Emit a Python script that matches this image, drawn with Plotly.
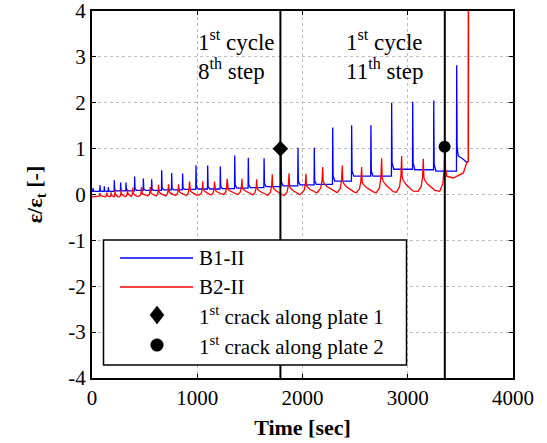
import plotly.graph_objects as go

# ---------------- data ----------------
blue_spike_time = [10, 76, 117, 155, 212, 272, 323, 405, 488, 567, 662, 757, 861,
                   988, 1099, 1219, 1356, 1485, 1635, 1796, 1957, 2112, 2287, 2467,
                   2650, 2847, 3047, 3247, 3465]
blue_spike_peak = [0.14, 0.20, 0.18, 0.16, 0.31, 0.26, 0.26, 0.39, 0.35, 0.33, 0.53,
                   0.47, 0.46, 0.64, 0.63, 0.61, 0.85, 0.80, 0.79, 1.00, 1.02, 1.02,
                   1.46, 1.51, 1.51, 2.00, 2.02, 2.05, 2.82]
blue_base = [0.07, 0.07, 0.07, 0.07, 0.07, 0.08, 0.08, 0.08, 0.09, 0.09, 0.09, 0.10,
             0.10, 0.11, 0.12, 0.12, 0.13, 0.14, 0.15, 0.17, 0.19, 0.21, 0.22, 0.29,
             0.40, 0.40, 0.55, 0.54, 0.51]
blue_tail_time = [3480, 3528, 3560, 3576, 3577]
blue_tail_value = [0.84, 0.77, 0.70, 0.72, 4.5]

red_spike_time = [75, 141, 182, 220, 277, 337, 388, 470, 553, 632, 727, 822, 926,
                  1053, 1164, 1284, 1425, 1565, 1713, 1872, 2033, 2192, 2378, 2562,
                  2752, 2942, 3148, 3354]
red_spike_peak = [0.03, 0.04, 0.05, 0.11, 0.12, 0.12, 0.15, 0.16, 0.16, 0.21, 0.22,
                  0.22, 0.28, 0.29, 0.28, 0.34, 0.34, 0.33, 0.44, 0.46, 0.45, 0.60,
                  0.63, 0.60, 0.79, 0.84, 0.78, 1.22]
red_base = [-0.05, -0.05, -0.05, -0.05, -0.05, -0.04, -0.04, -0.04, -0.03, -0.03,
            -0.03, -0.02, -0.02, -0.01, -0.01, 0.00, 0.00, -0.01, -0.02, -0.02, 0.02,
            0.06, 0.04, 0.04, 0.04, 0.05, 0.07, 0.07]
red_tail_time = [3370, 3433, 3480, 3528, 3560, 3576, 3577]
red_tail_value = [0.40, 0.36, 0.41, 0.47, 0.69, 0.72, 4.5]

crack_time = [1790, 3350]
crack_value = [1.00, 1.04]
cycle_line_time = [1790, 3352]

x_ticks = [0, 1000, 2000, 3000, 4000]
y_ticks = [-4, -3, -2, -1, 0, 1, 2, 3, 4]
x_tick_labels = ["0", "1000", "2000", "3000", "4000"]
y_tick_labels = ["-4", "-3", "-2", "-1", "0", "1", "2", "3", "4"]

# ---------------- build polylines from the spike lists ----------------
def build_blue():
    xs, ys = [0], [blue_base[0]]
    n = len(blue_spike_time)
    for i in range(n):
        t, p, b = blue_spike_time[i], blue_spike_peak[i], blue_base[i]
        nb = blue_base[i + 1] if i + 1 < n else blue_tail_value[0]
        limit = blue_spike_time[i + 1] - 2 if i + 1 < n else blue_tail_time[0]
        pts = [(t - 2, b), (t, p), (t + 4, nb + 0.1 * (p - nb)), (t + 20, nb)]
        for px_, py_ in pts:
            if px_ < limit:
                xs.append(px_); ys.append(py_)
    xs += blue_tail_time
    ys += blue_tail_value
    return xs, ys


def build_red():
    xs, ys = [0], [red_base[0]]
    n = len(red_spike_time)
    offs = [-50, -20, -7, 0, 5, 15, 40, 110]
    fr = [0.0, 0.15, 0.45, 1.0, 0.42, 0.33, 0.22, 0.03]
    for i in range(n):
        t, p, b = red_spike_time[i], red_spike_peak[i], red_base[i]
        a = p - b
        gp = t - red_spike_time[i - 1] if i > 0 else 200
        gn = red_spike_time[i + 1] - t if i + 1 < n else 200
        s = min(1.0, min(gp, gn) / 170.0)
        limit = red_spike_time[i + 1] if i + 1 < n else red_tail_time[0]
        for o, f in zip(offs, fr):
            xx = t + o * s
            if xx < limit and xx > xs[-1]:
                xs.append(xx); ys.append(b + f * a)
    xs += red_tail_time
    ys += red_tail_value
    return xs, ys


bx, by = build_blue()
rx, ry = build_red()

SERIF = "Liberation Serif"

fig = go.Figure()
fig.add_trace(go.Scatter(x=bx, y=by, mode="lines", name="B1-II",
                         line=dict(color="#0000ff", width=1.3)))
fig.add_trace(go.Scatter(x=rx, y=ry, mode="lines", name="B2-II",
                         line=dict(color="#ff0000", width=1.3)))
for t in cycle_line_time:
    fig.add_trace(go.Scatter(x=[t, t], y=[y_ticks[0], y_ticks[-1]], mode="lines",
                             line=dict(color="black", width=2), hoverinfo="skip"))
fig.add_trace(go.Scatter(x=crack_time[:1], y=crack_value[:1], mode="markers",
                         name="1st crack along plate 1",
                         marker=dict(symbol="diamond", size=12, color="black")))
fig.add_trace(go.Scatter(x=crack_time[1:], y=crack_value[1:], mode="markers",
                         name="1st crack along plate 2",
                         marker=dict(symbol="circle", size=12, color="black")))

axis_common = dict(showline=True, linecolor="black", linewidth=2, mirror="ticks",
                   ticks="inside", ticklen=4, tickwidth=1, tickcolor="black",
                   showgrid=True, gridcolor="#bdbdbd", gridwidth=1,
                   griddash="3px,3px", zeroline=False, automargin=False,
                   ticklabeloverflow="allow",
                   tickfont=dict(family=SERIF, size=21, color="black"))

fig.update_xaxes(range=[0, 4000], tickvals=x_ticks, ticktext=x_tick_labels,
                 **axis_common,
                 title=dict(text="<b>Time [sec]</b>", standoff=10,
                            font=dict(family=SERIF, size=22, color="black")))
fig.update_yaxes(range=[-4, 4], tickvals=y_ticks, ticktext=y_tick_labels,
                 **axis_common,
                 title=dict(text="<b>ε/ε<sub>t</sub> [-]</b>", standoff=20,
                            font=dict(family=SERIF, size=22, color="black")))

# ---------------- custom legend (paper coordinates) ----------------
L, R, T, B = 92, 513, 11, 378
W, H = R - L, B - T
def px(x):
    return (x - L) / W
def py(y):
    return (B - y) / H

shapes = []
shapes.append(dict(type="rect", xref="paper", yref="paper", layer="above",
                   x0=px(103.5), x1=px(406.5), y0=py(365), y1=py(240),
                   line=dict(color="black", width=1.5), fillcolor="white"))
for yy, col in [(258, "#0000ff"), (287, "#ff0000")]:
    shapes.append(dict(type="line", xref="paper", yref="paper", layer="above",
                       x0=px(120), x1=px(193), y0=py(yy), y1=py(yy),
                       line=dict(color=col, width=1.3)))
shapes.append(dict(type="path", xref="paper", yref="paper", layer="above",
                   xsizemode="pixel", ysizemode="pixel",
                   xanchor=px(157), yanchor=py(315),
                   path="M0,9 L7,0 L0,-9 L-7,0 Z",
                   fillcolor="black", line=dict(color="black", width=0.5)))
shapes.append(dict(type="circle", xref="paper", yref="paper", layer="above",
                   xsizemode="pixel", ysizemode="pixel",
                   xanchor=px(157), yanchor=py(345),
                   x0=-6.3, x1=6.3, y0=-6.3, y1=6.3,
                   fillcolor="black", line=dict(color="black", width=0.5)))
fig.update_layout(shapes=shapes)

legend_texts = [("B1-II", 258), ("B2-II", 287),
                ("1<sup>st</sup> crack along plate 1", 315),
                ("1<sup>st</sup> crack along plate 2", 345)]
annotations = []
for txt, yy in legend_texts:
    annotations.append(dict(xref="paper", yref="paper", x=px(197), y=py(yy),
                            xanchor="left", yanchor="middle", text=txt,
                            showarrow=False,
                            font=dict(family=SERIF, size=21, color="black")))

label_texts = [("1<sup>st</sup> cycle", 990, 3.36), ("8<sup>th</sup> step", 990, 2.72),
               ("1<sup>st</sup> cycle", 2396, 3.36), ("11<sup>th</sup> step", 2396, 2.72)]
for txt, xx, yy in label_texts:
    annotations.append(dict(xref="x", yref="y", x=xx, y=yy, xanchor="left",
                            yanchor="middle", text=txt, showarrow=False,
                            font=dict(family=SERIF, size=23, color="black")))

fig.update_layout(annotations=annotations, width=547, height=443,
                  margin=dict(l=92, r=34, t=11, b=65),
                  plot_bgcolor="white", paper_bgcolor="white", showlegend=False,
                  font=dict(family=SERIF, size=21, color="black"))

fig.write_html("out.html", config={"displayModeBar": False},
               post_script="document.body.style.margin='0';"
                           "document.body.style.overflow='hidden';")
